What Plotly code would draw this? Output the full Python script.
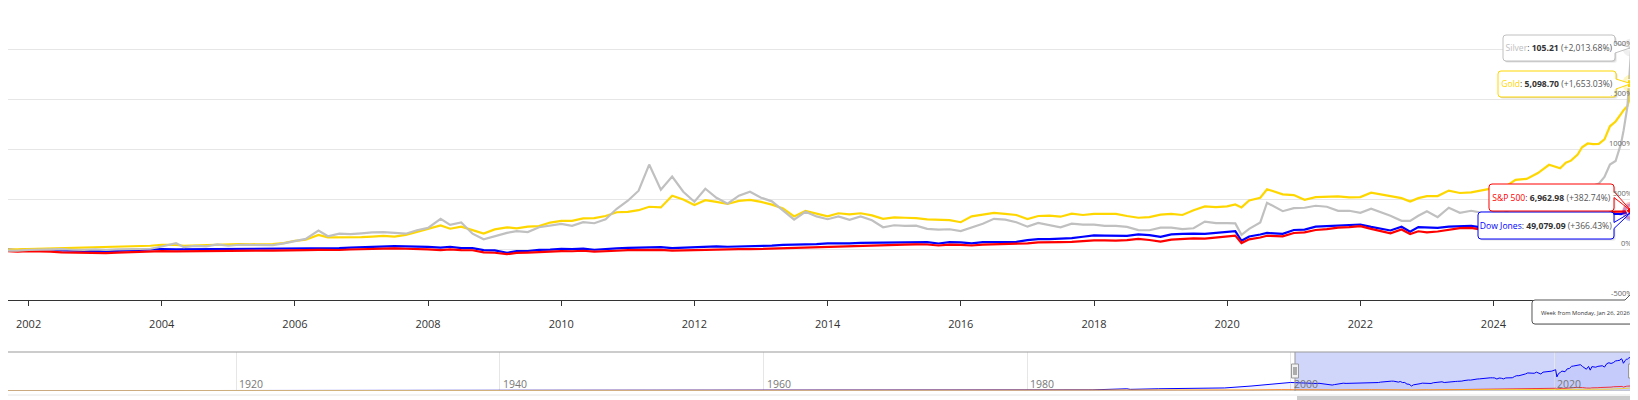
import datetime as dt
import plotly.graph_objects as go

# --- data (closing prices, roughly every two months, denser at the end) ---
dates = [
    "2001-07-16", "2001-09-01", "2001-11-01",
    "2002-01-01", "2002-03-01", "2002-05-01", "2002-07-01", "2002-09-01", "2002-11-01",
    "2003-01-01", "2003-03-01", "2003-05-01", "2003-07-01", "2003-09-01", "2003-11-01",
    "2004-01-01", "2004-03-20", "2004-05-01", "2004-07-01", "2004-09-01", "2004-11-01",
    "2005-01-01", "2005-03-01", "2005-05-01", "2005-07-01", "2005-09-01", "2005-11-01",
    "2006-01-01", "2006-03-01", "2006-05-10", "2006-07-01", "2006-09-01", "2006-11-01",
    "2007-01-01", "2007-03-01", "2007-05-01", "2007-07-01", "2007-09-01", "2007-11-01",
    "2008-01-01", "2008-03-10", "2008-05-01", "2008-07-01", "2008-09-01", "2008-11-01",
    "2009-01-01", "2009-03-09", "2009-05-01", "2009-07-01", "2009-09-01", "2009-11-01",
    "2010-01-01", "2010-03-01", "2010-05-01", "2010-07-01", "2010-09-01", "2010-11-01",
    "2011-01-01", "2011-03-01", "2011-04-28", "2011-07-01", "2011-09-01", "2011-11-01",
    "2012-01-01", "2012-03-01", "2012-05-01", "2012-07-01", "2012-09-01", "2012-11-01",
    "2013-01-01", "2013-03-01", "2013-05-01", "2013-07-01", "2013-09-01", "2013-11-01",
    "2014-01-01", "2014-03-01", "2014-05-01", "2014-07-01", "2014-09-01", "2014-11-01",
    "2015-01-01", "2015-03-01", "2015-05-01", "2015-07-01", "2015-09-01", "2015-11-01",
    "2016-01-01", "2016-03-01", "2016-05-01", "2016-07-01", "2016-09-01", "2016-11-01",
    "2017-01-01", "2017-03-01", "2017-05-01", "2017-07-01", "2017-09-01", "2017-11-01",
    "2018-01-01", "2018-03-01", "2018-05-01", "2018-07-01", "2018-09-01", "2018-11-01",
    "2019-01-01", "2019-03-01", "2019-05-01", "2019-07-01", "2019-09-01", "2019-11-01",
    "2020-01-01", "2020-02-15", "2020-03-20", "2020-05-01", "2020-07-01", "2020-08-07", "2020-11-01",
    "2021-01-01", "2021-03-01", "2021-05-01", "2021-07-01", "2021-09-01", "2021-11-01",
    "2022-01-01", "2022-03-01", "2022-06-15", "2022-08-15", "2022-10-01", "2022-11-15",
    "2023-01-01", "2023-03-01", "2023-05-01", "2023-07-01", "2023-09-01", "2023-11-01",
    "2024-01-01", "2024-03-01", "2024-05-01", "2024-07-01", "2024-09-01", "2024-11-01",
    "2025-01-01", "2025-02-01", "2025-03-01", "2025-04-07", "2025-05-01", "2025-06-01",
    "2025-07-01", "2025-08-01", "2025-09-01", "2025-10-01", "2025-11-01", "2025-12-01",
    "2025-12-15", "2026-01-05", "2026-01-12", "2026-01-19", "2026-01-26",
]

dow = [
    10500, 9950, 9300,
    10050, 10350, 10000, 9100, 8650, 8500,
    8600, 7900, 8500, 9100, 9400, 9800,
    10500, 10200, 10250, 10300, 10150, 10050,
    10750, 10800, 10200, 10300, 10500, 10400,
    10850, 10950, 11350, 11150, 11400, 12000,
    12450, 12250, 13100, 13550, 13350, 13300,
    12700, 12000, 12900, 11400, 11500, 9300,
    9000, 6600, 8200, 8400, 9500, 9800,
    10550, 10350, 11000, 9750, 10100, 11100,
    11650, 12050, 12800, 12450, 11450, 11900,
    12250, 12950, 13250, 12900, 13100, 13050,
    13400, 14100, 14800, 14900, 14800, 15600,
    16500, 16300, 16500, 17000, 17100, 17500,
    17800, 18000, 18000, 17800, 16300, 17700,
    17400, 16500, 17800, 17900, 18400, 18100,
    19800, 21000, 20900, 21400, 21900, 23400,
    24800, 24500, 24100, 24300, 25900, 25100,
    23300, 25900, 26400, 26800, 26400, 27300,
    28500, 29300, 19200, 23700, 25800, 27400, 26500,
    30500, 31000, 34000, 34500, 35300, 36000,
    36300, 33800, 30000, 33900, 28700, 33600,
    33100, 32800, 34000, 34400, 34800, 33000,
    37700, 39000, 38000, 39200, 41500, 42000,
    42500, 44500, 43800, 38300, 40700, 42300,
    44100, 44100, 45500, 46400, 47600, 47300,
    48400, 48900, 49500, 49400, 49079.09,
]

sp500 = [
    1210, 1130, 1060,
    1150, 1130, 1075, 970, 915, 885,
    905, 840, 920, 980, 1005, 1050,
    1130, 1110, 1110, 1110, 1110, 1140,
    1200, 1200, 1160, 1200, 1220, 1210,
    1255, 1285, 1310, 1270, 1300, 1370,
    1415, 1400, 1485, 1530, 1480, 1490,
    1400, 1290, 1400, 1270, 1260, 950,
    900, 700, 880, 920, 1020, 1060,
    1125, 1120, 1190, 1050, 1080, 1190,
    1270, 1310, 1360, 1330, 1200, 1240,
    1280, 1370, 1400, 1360, 1410, 1410,
    1460, 1520, 1600, 1610, 1640, 1760,
    1830, 1860, 1880, 1970, 2000, 2020,
    2060, 2080, 2100, 2090, 1950, 2080,
    2040, 1950, 2070, 2100, 2170, 2120,
    2250, 2390, 2380, 2420, 2470, 2580,
    2700, 2680, 2640, 2720, 2900, 2740,
    2510, 2800, 2920, 2980, 2930, 3070,
    3230, 3380, 2305, 2830, 3100, 3350, 3270,
    3750, 3850, 4180, 4300, 4520, 4600,
    4750, 4350, 3700, 4250, 3600, 4000,
    3850, 3970, 4170, 4450, 4500, 4190,
    4770, 5100, 5030, 5480, 5620, 5730,
    5880, 6040, 5950, 5070, 5600, 5930,
    6200, 6340, 6460, 6690, 6840, 6820,
    6830, 6900, 6960, 6940, 6962.98,
]

gold = [
    267, 273, 280,
    279, 296, 310, 318, 314, 318,
    345, 335, 345, 350, 375, 385,
    415, 410, 385, 395, 405, 430,
    428, 430, 428, 422, 435, 460,
    530, 560, 700, 630, 630, 620,
    635, 650, 670, 650, 700, 790,
    880, 975, 880, 940, 840, 740,
    860, 920, 890, 940, 955, 1060,
    1110, 1110, 1180, 1190, 1250, 1360,
    1370, 1420, 1520, 1500, 1840, 1730,
    1570, 1710, 1660, 1600, 1690, 1720,
    1660, 1580, 1470, 1240, 1400, 1320,
    1240, 1330, 1300, 1330, 1270, 1170,
    1210, 1200, 1190, 1150, 1130, 1130,
    1070, 1240, 1290, 1340, 1310, 1280,
    1160, 1250, 1260, 1230, 1320, 1280,
    1310, 1320, 1310, 1250, 1200, 1220,
    1290, 1310, 1280, 1420, 1530, 1510,
    1530, 1585, 1500, 1700, 1780, 2030, 1880,
    1860, 1720, 1800, 1810, 1820, 1790,
    1800, 1930, 1820, 1770, 1670, 1770,
    1830, 1830, 1990, 1920, 1940, 1990,
    2060, 2080, 2300, 2330, 2500, 2740,
    2640, 2800, 2860, 3040, 3250, 3360,
    3340, 3350, 3480, 3860, 4000, 4220,
    4330, 4450, 4600, 4700, 5098.70,
]

silver = [
    4.25, 4.20, 4.15,
    4.5, 4.55, 4.6, 4.95, 4.6, 4.5,
    4.8, 4.55, 4.75, 4.85, 5.15, 5.1,
    6.2, 7.9, 5.9, 6.5, 6.3, 7.3,
    6.6, 7.1, 7.0, 7.1, 6.9, 7.8,
    8.9, 10.0, 14.2, 11.3, 12.6, 12.4,
    12.8, 13.3, 13.4, 12.9, 12.6, 14.3,
    15.5, 20.0, 17.0, 18.2, 12.6, 9.8,
    11.3, 13.0, 13.9, 13.4, 15.8, 16.8,
    17.5, 16.5, 18.3, 17.8, 19.8, 25.0,
    29.0, 34.0, 47.0, 34.5, 41.0, 33.5,
    28.5, 35.0, 30.5, 27.5, 31.5, 33.5,
    30.5, 28.7, 24.0, 19.6, 23.5, 21.2,
    19.8, 21.2, 19.5, 21.2, 19.3, 15.8,
    16.8, 16.5, 16.6, 15.0, 14.6, 14.8,
    13.9, 15.5, 17.5, 20.0, 19.6, 18.3,
    16.1, 18.0, 16.9, 15.8, 17.6, 17.1,
    17.1, 16.5, 16.5, 16.0, 14.4, 14.3,
    15.6, 15.6, 14.9, 15.3, 18.6, 17.9,
    17.9, 17.7, 12.0, 15.0, 18.2, 28.0, 23.8,
    25.3, 25.5, 26.5, 26.0, 24.0, 24.0,
    23.0, 25.0, 21.5, 19.0, 19.0, 21.5,
    23.8, 20.8, 25.5, 23.0, 24.0, 23.0,
    23.2, 23.0, 26.5, 29.2, 28.8, 32.8,
    29.5, 31.8, 31.5, 29.5, 32.3, 33.0,
    36.5, 37.5, 40.8, 47.0, 48.8, 57.5,
    64.0, 76.0, 86.0, 94.0, 105.21,
]

# long history, only drawn in the navigator strip
hist_dates = [
    "1902-01-19", "1906-01-01", "1907-11-01", "1910-01-01", "1914-12-01", "1919-11-01",
    "1921-08-01", "1925-01-01", "1929-09-01", "1932-07-01", "1937-03-01", "1938-03-01",
    "1942-04-01", "1946-05-01", "1950-01-01", "1955-01-01", "1960-01-01", "1966-02-01",
    "1970-05-01", "1973-01-01", "1974-12-01", "1980-01-01", "1982-08-01", "1985-01-01",
    "1987-08-01", "1987-11-01", "1990-01-01", "1995-01-01", "1997-01-01", "1999-05-01",
    "2000-01-01", "2001-01-01",
]
hist_dow = [65, 100, 55, 95, 55, 115, 65, 120, 380, 42, 190, 100, 95, 210, 200, 400, 660, 990,
            700, 1050, 580, 850, 780, 1200, 2700, 1900, 2750, 3850, 6500, 11000, 11500, 10800]
hist_sp500 = [8, 10, 6, 9, 7, 9, 7, 11, 31, 4.5, 18, 10, 8, 19, 17, 36, 58, 93,
              70, 118, 68, 110, 105, 170, 330, 245, 350, 460, 740, 1360, 1460, 1320]
hist_gold = [20.67, 20.67, 20.67, 20.67, 20.67, 20.67, 20.67, 20.67, 20.67, 20.67, 35, 35,
             35, 35, 35, 35, 35, 35, 36, 65, 185, 650, 350, 300, 460, 470, 410, 380, 360, 280, 285, 265]
hist_silver = [0.55, 0.65, 0.6, 0.55, 0.5, 1.3, 0.65, 0.68, 0.5, 0.28, 0.45, 0.44, 0.35, 0.8,
               0.72, 0.85, 0.91, 1.29, 1.8, 2.0, 4.3, 35, 7, 6.3, 7.5, 6.5, 5.2, 4.7, 4.8, 5.2, 5.3, 4.6]

series_names = ["Dow Jones", "S&P 500", "Gold", "Silver"]
series_colors = ["#0000FF", "#FF0000", "#FFD700", "#C0C0C0"]
series_prices = [dow, sp500, gold, silver]
series_history = [hist_dow, hist_sp500, hist_gold, hist_silver]
compare_base = [10522.3, 1442.39, 290.85, 4.97757]   # price the % change is measured from
marker_symbols = ["circle", "diamond", "square", "triangle-up"]

x_tick_years = list(range(2002, 2026, 2))
y_ticks = [-500, 0, 500, 1000, 1500, 2000]
x_range = ["2001-09-10", "2026-01-30"]
y_range = [-510, 2410]
nav_range = ["1902-08-29", "2026-01-26"]
nav_years = [1920, 1940, 1960, 1980, 2000, 2020]
nav_zoom_start = "2000-05-04"

W, H = 1638, 400
OFF = 8          # the page puts the figure 8px in from the top-left corner
PLOT_R, PLOT_B = 1632, 300
FONT = "Open Sans"


def fx(x):
    return (x - OFF) / W


def fy(y):
    return 1 - (y - OFF) / H


def px(x, y):
    return f"{fx(x):.5f},{fy(y):.5f}"


def y_pix(v):
    return (2490 - v) / 10


def box_path(x0, y0, x1, y1, r=3, tip=None, half=5, dy=0):
    p = [f"M{px(x0 + r, y0)}", f"L{px(x1 - r, y0)}", f"Q{px(x1, y0)} {px(x1, y0 + r)}"]
    if tip:
        yc = (y0 + y1) / 2 + dy
        p += [f"L{px(x1, yc - half)}", f"L{px(*tip)}", f"L{px(x1, yc + half)}"]
    p += [f"L{px(x1, y1 - r)}", f"Q{px(x1, y1)} {px(x1 - r, y1)}", f"L{px(x0 + r, y1)}",
          f"Q{px(x0, y1)} {px(x0, y1 - r)}", f"L{px(x0, y0 + r)}", f"Q{px(x0, y0)} {px(x0 + r, y0)}", "Z"]
    return " ".join(p)


pct = [[(v / b - 1) * 100 for v in prices] for prices, b in zip(series_prices, compare_base)]

fig = go.Figure()

# main comparison lines
for name, color, vals in zip(series_names, series_colors, pct):
    fig.add_trace(go.Scatter(x=dates, y=vals, mode="lines", name=name,
                             line=dict(color=color, width=2.2), hoverinfo="skip"))

# hover halos + markers on the last point
for color, vals in zip(series_colors, pct):
    fig.add_trace(go.Scatter(x=[dates[-1]], y=[vals[-1]], mode="markers", cliponaxis=False,
                             marker=dict(size=18, color=color, opacity=0.25), hoverinfo="skip"))
for color, vals, sym in zip(series_colors, pct, marker_symbols):
    fig.add_trace(go.Scatter(x=[dates[-1]], y=[vals[-1]], mode="markers", cliponaxis=False,
                             marker=dict(size=8, color=color, symbol=sym, line=dict(color="white", width=1)),
                             hoverinfo="skip"))

# navigator series (raw prices, full history)
nav_dates = hist_dates + dates
for name, color, hist, prices in zip(series_names, series_colors, series_history, series_prices):
    fig.add_trace(go.Scatter(x=nav_dates, y=hist + prices, mode="lines", xaxis="x2", yaxis="y2",
                             line=dict(color=color, width=1), opacity=0.75, hoverinfo="skip",
                             fill="tozeroy" if name == "Dow Jones" else None,
                             fillcolor="rgba(0,0,255,0.05)"))

shapes = []
annotations = []

# crosshair
shapes.append(dict(type="line", xref="x", yref="paper", x0=dates[-1], x1=dates[-1],
                   y0=fy(PLOT_B), y1=1, line=dict(color="#cccccc", width=1), layer="below"))

# y-axis labels, inside the plot on the right, just above each grid line
for v in y_ticks:
    annotations.append(dict(xref="paper", yref="y", x=fx(PLOT_R + 1), y=v, text=f"{v}%",
                            showarrow=False, xanchor="right", yanchor="bottom", borderpad=0,
                            font=dict(family=FONT, size=7.5, color="#666666")))

# navigator mask, outline, handles, scrollbar
nav_top, nav_bot = 352, 391
shapes.append(dict(type="rect", xref="x2", yref="paper", x0=nav_zoom_start, x1=nav_dates[-1],
                   y0=fy(nav_bot), y1=fy(nav_top), fillcolor="rgba(98,118,238,0.3)",
                   line=dict(width=0), layer="below"))
shapes.append(dict(type="line", xref="paper", yref="paper", x0=0, x1=fx(1634),
                   y0=fy(nav_top), y1=fy(nav_top), line=dict(color="#999999", width=1)))
for xd in [nav_zoom_start, nav_dates[-1]]:
    shapes.append(dict(type="line", xref="x2", yref="paper", x0=xd, x1=xd,
                       y0=fy(nav_bot), y1=fy(nav_top), line=dict(color="#999999", width=1)))
for hx in [1295, 1632]:
    shapes.append(dict(type="rect", xref="paper", yref="paper", x0=fx(hx - 3.5), x1=fx(hx + 3.5),
                       y0=fy(378), y1=fy(364), fillcolor="#f2f2f2",
                       line=dict(color="#999999", width=1)))
    for lx in [hx - 1, hx + 1]:
        shapes.append(dict(type="line", xref="paper", yref="paper", x0=fx(lx), x1=fx(lx),
                           y0=fy(375), y1=fy(367), line=dict(color="#666666", width=1)))
shapes.append(dict(type="line", xref="paper", yref="paper", x0=0, x1=1,
                   y0=fy(395), y1=fy(395), line=dict(color="#e6e6e6", width=1)))
shapes.append(dict(type="rect", xref="paper", yref="paper", x0=fx(1297), x1=1,
                   y0=fy(404), y1=fy(396), fillcolor="#cccccc", line=dict(width=0)))

# split tooltips: outline/tip/shadow as shapes, white text boxes on top hide the y labels
tip_boxes = {"Silver": (1503, 35, 1615, 61, 5, 0), "Gold": (1498, 71, 1616, 97, 5, 0),
             "S&P 500": (1489, 184, 1614, 211, 3, -3), "Dow Jones": (1478, 212, 1614, 239, 3, 0)}
for name, color, prices, vals in zip(series_names, series_colors, series_prices, pct):
    x0, y0, x1, y1, half, dy = tip_boxes[name]
    tip = (PLOT_R - 1, y_pix(vals[-1]))
    for off, op in [(2, 0.06), (1, 0.12)]:
        shapes.append(dict(type="path", xref="paper", yref="paper", layer="above",
                           path=box_path(x0 + off, y0 + off, x1 + off, y1 + off),
                           fillcolor=f"rgba(0,0,0,{op})", line=dict(width=0)))
    shapes.append(dict(type="path", xref="paper", yref="paper", layer="above",
                       path=box_path(x0, y0, x1, y1, tip=tip, half=half, dy=dy),
                       fillcolor="white", line=dict(color=color, width=1)))
    label = name.replace("&", "&amp;")
    text = (f'<span style="color:{color}">{label}</span>: <b>{prices[-1]:,.2f}</b> '
            f'<span style="color:#555555">({vals[-1]:+,.2f}%)</span>')
    annotations.append(dict(xref="paper", yref="paper", x=fx((x0 + x1) / 2), y=fy((y0 + y1) / 2),
                            text=text, showarrow=False, xanchor="center", yanchor="middle",
                            width=x1 - x0 - 4, height=y1 - y0 - 4, borderpad=0, bgcolor="white",
                            align="center", font=dict(family=FONT, size=8.6, color="#333333")))

# date header tooltip
hx0, hy0, hx1, hy1 = 1532, 300, 1646, 324
hdr = (f"M{px(hx0 + 3, hy0)} L{px(PLOT_R - 7, hy0)} L{px(PLOT_R, hy0 - 7)} L{px(PLOT_R + 7, hy0)} "
       f"L{px(hx1, hy0)} L{px(hx1, hy1)} L{px(hx0 + 3, hy1)} Q{px(hx0, hy1)} {px(hx0, hy1 - 3)} "
       f"L{px(hx0, hy0 + 3)} Q{px(hx0, hy0)} {px(hx0 + 3, hy0)} Z")
shapes.append(dict(type="path", xref="paper", yref="paper", layer="above",
                   path=box_path(hx0 + 1, hy0 + 1, hx1 + 1, hy1 + 1), fillcolor="rgba(0,0,0,0.12)",
                   line=dict(width=0)))
shapes.append(dict(type="path", xref="paper", yref="paper", layer="above", path=hdr,
                   fillcolor="white", line=dict(color="#555555", width=1)))
last_day = dt.date.fromisoformat(dates[-1])
annotations.append(dict(xref="paper", yref="paper", x=fx(1585), y=fy(313), showarrow=False,
                        text=f"Week from {last_day:%A, %b} {last_day.day}, {last_day:%Y}",
                        xanchor="center", yanchor="middle",
                        font=dict(family=FONT, size=5.8, color="#333333")))

# navigator year labels
for yr in nav_years:
    annotations.append(dict(xref="x2", yref="paper", x=f"{yr}-01-01", y=fy(384), text=str(yr),
                            showarrow=False, xanchor="left", yanchor="middle", xshift=1,
                            font=dict(family=FONT, size=10.5, color="#777777")))

fig.update_layout(
    width=W, height=H, margin=dict(l=0, r=0, t=0, b=0),
    paper_bgcolor="white", plot_bgcolor="white", showlegend=False,
    font=dict(family=FONT, color="#333333"),
    xaxis=dict(domain=[0, fx(PLOT_R)], range=x_range, type="date", tickmode="array",
               tickvals=[f"{y}-01-01" for y in x_tick_years], ticktext=[str(y) for y in x_tick_years],
               ticks="outside", ticklen=5, tickcolor="#333333", showline=True,
               linecolor="#333333", linewidth=1, showgrid=False, zeroline=False,
               tickfont=dict(family=FONT, size=11, color="#333333"), ticklabelstandoff=9),
    yaxis=dict(domain=[fy(PLOT_B), 1], range=y_range, tickmode="array", tickvals=y_ticks,
               showticklabels=False, showgrid=True, gridcolor="#e6e6e6", gridwidth=1,
               zeroline=False, showline=False, ticks=""),
    xaxis2=dict(domain=[0, fx(1634)], range=nav_range, type="date", anchor="y2",
                tickmode="array", tickvals=[f"{y}-01-01" for y in nav_years], showticklabels=False,
                showgrid=True, gridcolor="#e6e6e6", showline=False, zeroline=False, ticks=""),
    yaxis2=dict(domain=[fy(nav_bot), fy(nav_top)], range=[-400, 54000], anchor="x2",
                showgrid=False, showticklabels=False, zeroline=False, showline=False),
    shapes=shapes, annotations=annotations,
)

fig.write_html("out.html")
